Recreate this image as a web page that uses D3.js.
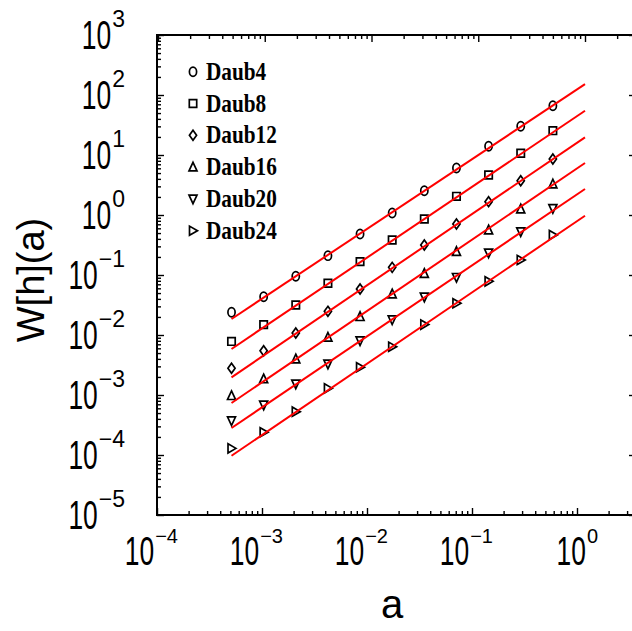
<!DOCTYPE html>
<html>
<head>
<meta charset="utf-8">
<script src="https://cdn.jsdelivr.net/npm/d3@7"></script>
<style>
  body { margin: 0; background: #fff; }
  svg { display: block; }
</style>
</head>
<body>
<svg id="chart" width="632" height="631"></svg>
<script>
//Scales a = 2^-11 ... 2^-1
var scales = [1/2048, 1/1024, 1/512, 1/256, 1/128, 1/64, 1/32, 1/16, 1/8, 1/4, 1/2];

//Series names (legend order)
var names = ["Daub4", "Daub8", "Daub12", "Daub16", "Daub20", "Daub24"];

//W[h](a), one array per wavelet
var daub4  = [0.0239, 0.0435, 0.0951, 0.210, 0.482, 1.08, 2.54, 6.07, 13.96, 30.1, 66.3];
var daub8  = [0.0078, 0.0149, 0.0316, 0.0728, 0.167, 0.383, 0.858, 2.05, 4.64, 10.7, 25.4];
var daub12 = [0.00279, 0.00547, 0.0108, 0.0248, 0.0585, 0.134, 0.316, 0.708, 1.67, 3.73, 8.58];
var daub16 = [0.000973, 0.00185, 0.00398, 0.00916, 0.0202, 0.0482, 0.106, 0.245, 0.562, 1.26, 3.28];
var daub20 = [0.000373, 0.000681, 0.00153, 0.00329, 0.00804, 0.0180, 0.043, 0.0916, 0.233, 0.527, 1.29];
var daub24 = [0.000129, 0.000239, 0.000527, 0.00129, 0.0029, 0.00638, 0.0149, 0.0338, 0.0785, 0.178, 0.464];

//Fitted power law lines: value at start and end of the fit range
var fitRange = [1/2048, 1];
var fitStart = [0.0185, 0.00585, 0.00197, 0.000736, 0.000282, 0.0000973];
var fitEnd   = [152, 54.7, 19.7, 7.36, 2.71, 0.973];

//Tick labels
var xTicks = [1e-4, 1e-3, 1e-2, 1e-1, 1e0];
var xTickExp = ["\u22124", "\u22123", "\u22122", "\u22121", "0"];
var yTicks = [1e3, 1e2, 1e1, 1e0, 1e-1, 1e-2, 1e-3, 1e-4, 1e-5];
var yTickExp = ["3", "2", "1", "0", "\u22121", "\u22122", "\u22123", "\u22124", "\u22125"];

var series = [daub4, daub8, daub12, daub16, daub20, daub24];
var shapes = ["circle", "square", "diamond", "up", "down", "right"];

//Layout (plot frame)
var plotL = 157, plotR = 636, plotT = 35, plotB = 515;

var svg = d3.select("#chart");

//Data (and top axis) scale
var x = d3.scaleLog().domain([1e-4, 1]).range([158, 585]);
//Bottom axis in the original is drawn a bit narrower than the data
var xBottom = d3.scaleLog().domain([1e-4, 1]).range([plotL, 577]);
var y = d3.scaleLog().domain([1e-5, 1e3]).range([plotB, plotT]);

//Extended copies so minor ticks run to the right edge
var xTop = x.copy().domain([1e-4, x.invert(plotR)]).range([x(1e-4), plotR]);
var xBot = xBottom.copy().domain([1e-4, xBottom.invert(plotR)]).range([plotL, plotR]);

function isDecade(v){
    var l = Math.log10(v);
    return Math.abs(l - Math.round(l)) < 1e-9;
}

function tickGroup(axis, scale, transform, vals, len){
    svg.append("g")
        .attr("transform", transform)
        .call(axis(scale).tickValues(vals).tickSize(-len).tickFormat(""))
        .call(function(g){
            g.select(".domain").remove();
            g.selectAll(".tick line").attr("stroke", "#000").attr("stroke-width", 1.4);
        });
}

//Ticks on all four sides, inward
[[d3.axisBottom, xBot, "translate(0," + plotB + ")"],
 [d3.axisTop, xTop, "translate(0," + plotT + ")"]].forEach(function(a){
    var all = a[1].ticks();
    tickGroup(a[0], a[1], a[2], all.filter(isDecade), 7);
    tickGroup(a[0], a[1], a[2], all.filter(function(v){ return !isDecade(v); }), 4);
});
[[d3.axisLeft, "translate(" + plotL + ",0)"],
 [d3.axisRight, "translate(" + plotR + ",0)"]].forEach(function(a){
    var all = y.ticks();
    tickGroup(a[0], y, a[1], all.filter(isDecade), 7);
    tickGroup(a[0], y, a[1], all.filter(function(v){ return !isDecade(v); }), 4);
});

//Frame
svg.append("rect")
    .attr("x", plotL).attr("y", plotT)
    .attr("width", plotR - plotL).attr("height", plotB - plotT)
    .attr("fill", "none").attr("stroke", "#000").attr("stroke-width", 2);

//Tick labels: narrow "10" with a normal width exponent
var labelFont = "'Liberation Sans', Arial, sans-serif";

function powerLabel(xRight, yBase, exp, expSize){
    var e = svg.append("text")
        .attr("x", xRight).attr("y", yBase - 22)
        .attr("text-anchor", "end")
        .style("font-family", labelFont).style("font-size", expSize + "px")
        .text(exp);
    var w = e.node().getComputedTextLength();
    svg.append("text")
        .attr("transform", "translate(" + (xRight - w - 1) + "," + yBase + ") scale(0.66,1)")
        .attr("text-anchor", "end")
        .style("font-family", labelFont).style("font-size", "40px")
        .text("10");
}

xTicks.forEach(function(t, i){
    powerLabel(xBottom(t) + 21, 565, xTickExp[i], 20);
});
yTicks.forEach(function(t, i){
    powerLabel(125, y(t) + 14, yTickExp[i], 23);
});

//Axis titles
svg.append("text")
    .attr("x", 392).attr("y", 618)
    .attr("text-anchor", "middle")
    .style("font-family", labelFont).style("font-size", "40px")
    .text("a");
svg.append("text")
    .attr("transform", "translate(44,280) rotate(-90)")
    .attr("text-anchor", "middle")
    .style("font-family", labelFont).style("font-size", "38px")
    .text("W[h](a)");

//Marker shapes
var shapePaths = {
    square: "M-3.7,-3.8H3.7V3.8H-3.7Z",
    diamond: "M0,-5L3.6,0L0,5L-3.6,0Z",
    up: "M0,-4.8L4,3.8L-4,3.8Z",
    down: "M0,4.8L4,-3.8L-4,-3.8Z",
    right: "M4.5,0L-3.5,-4.6L-3.5,4.6Z"
};

function drawMarker(g, shape, cx, cy){
    if (shape === "circle"){
        g.append("ellipse")
            .attr("cx", cx).attr("cy", cy).attr("rx", 3.6).attr("ry", 4.6);
    } else {
        g.append("path")
            .attr("transform", "translate(" + cx + "," + cy + ")")
            .attr("d", shapePaths[shape]);
    }
}

var markers = svg.append("g")
    .attr("fill", "none").attr("stroke", "#000").attr("stroke-width", 1.7);

series.forEach(function(vals, i){
    vals.forEach(function(v, j){
        drawMarker(markers, shapes[i], x(scales[j]), y(v));
    });
});

//Fit lines
var line = d3.line()
    .x(function(d){ return x(d[0]); })
    .y(function(d){ return y(d[1]); });

names.forEach(function(n, i){
    svg.append("path")
        .datum([[fitRange[0], fitStart[i]], [fitRange[1], fitEnd[i]]])
        .attr("d", line)
        .attr("fill", "none")
        .attr("stroke", "#f00")
        .attr("stroke-width", 2);
});

//Legend
var legend = svg.append("g");
var legendMarks = legend.append("g")
    .attr("fill", "none").attr("stroke", "#000").attr("stroke-width", 1.7);
names.forEach(function(n, i){
    var ly = 71.7 + i * 31.8;
    drawMarker(legendMarks, shapes[i], 193, ly);
    legend.append("text")
        .attr("transform", "translate(206," + (ly + 8) + ") scale(0.85,1)")
        .style("font-family", "'Liberation Serif', 'Times New Roman', serif")
        .style("font-weight", "bold")
        .style("font-size", "25px")
        .text(n);
});
</script>
</body>
</html>
